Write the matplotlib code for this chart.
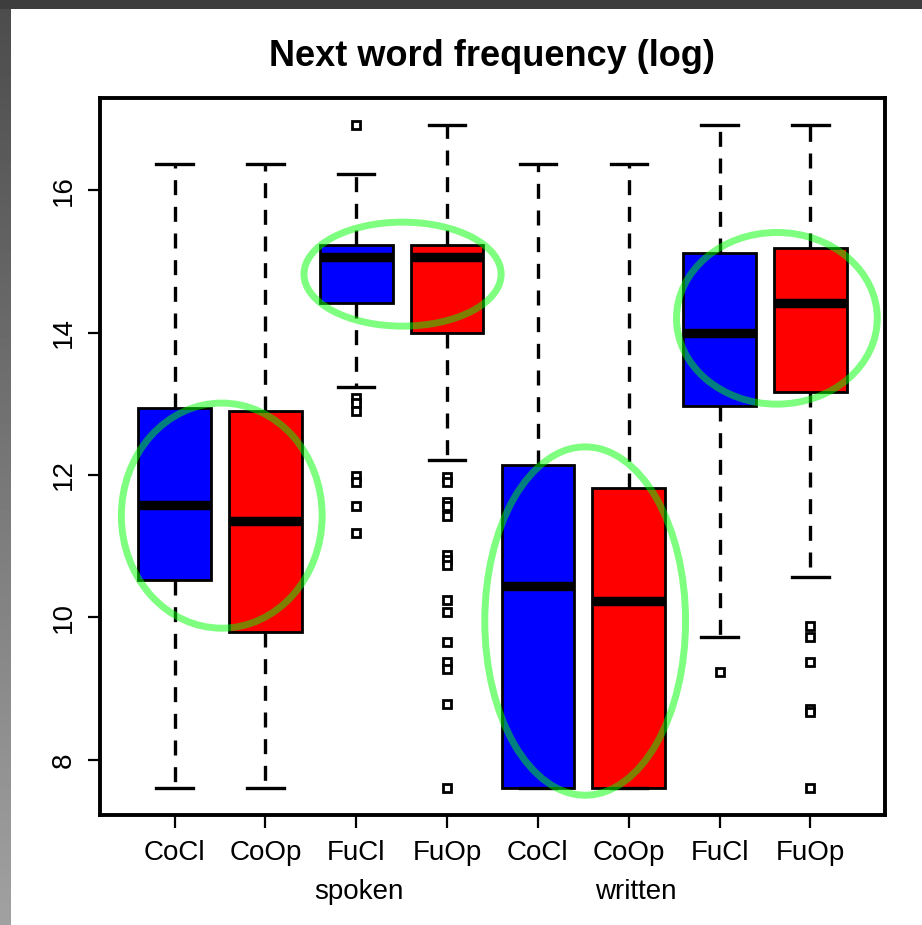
import numpy as np
import matplotlib
matplotlib.use("Agg")
import matplotlib.pyplot as plt
from matplotlib.patches import Ellipse, Rectangle

plt.rcParams['font.family'] = ['Liberation Sans', 'DejaVu Sans']

# next-word log frequency by condition, spoken then written
conds = ['CoCl', 'CoOp', 'FuCl', 'FuOp', 'CoCl', 'CoOp', 'FuCl', 'FuOp']
modes = ['spoken', 'written']
q1 = [10.52, 9.79, 14.42, 13.99, 7.60, 7.60, 12.97, 13.17]
med = [11.58, 11.36, 15.06, 15.06, 10.44, 10.23, 13.99, 14.42]
q3 = [12.94, 12.90, 15.23, 15.23, 12.14, 11.82, 15.12, 15.19]
whislo = [7.60, 7.60, 13.24, 12.21, 7.60, 7.60, 9.73, 10.57]
whishi = [16.37, 16.37, 16.22, 16.92, 16.37, 16.37, 16.92, 16.92]
fliers = [
    [],
    [],
    [16.92, 13.08, 13.01, 12.90, 11.99, 11.90, 11.57, 11.19],
    [11.97, 11.90, 11.62, 11.57, 11.43, 10.88, 10.81, 10.74, 10.24,
     10.07, 9.66, 9.37, 9.27, 8.78, 7.60],
    [],
    [],
    [9.23],
    [9.88, 9.73, 9.37, 8.72, 8.68, 7.60],
]
fills = ['#0000ff', '#ff0000'] * 4

stats = []
for i in range(len(conds)):
    stats.append({'med': med[i], 'q1': q1[i], 'q3': q3[i],
                  'whislo': whislo[i], 'whishi': whishi[i],
                  'fliers': fliers[i], 'label': conds[i]})

fig = plt.figure(figsize=(9.22, 9.25), dpi=100)
fig.patch.set_facecolor('white')

# dark frame strips along the top and left edge
fig.patches.append(Rectangle((0, 1 - 9 / 925), 1, 9 / 925, transform=fig.transFigure,
                             facecolor='#3d3d3d', edgecolor='none', zorder=0))
strip = fig.add_axes([0, 0, 10 / 922, 1 - 9 / 925])
grad = np.linspace(0.30, 0.63, 256).reshape(-1, 1)
strip.imshow(grad, cmap='gray', vmin=0, vmax=1, aspect='auto', origin='upper')
strip.axis('off')

ax = fig.add_axes([100 / 922, 1 - 815 / 925, 785 / 922, 717 / 925])
pos = np.arange(1, len(conds) + 1)
bp = ax.bxp(stats, positions=pos, widths=0.8, patch_artist=True, capwidths=0.4,
            boxprops=dict(edgecolor='black', linewidth=2.0),
            medianprops=dict(color='black', linewidth=6.8, solid_capstyle='butt'),
            whiskerprops=dict(color='black', linewidth=2.4, linestyle=(0, (4.5, 3.5))),
            capprops=dict(color='black', linewidth=2.4),
            flierprops=dict(marker='s', markersize=5.5, markerfacecolor='white',
                            markeredgecolor='black', markeredgewidth=2.0, linestyle='none'))
for box, c in zip(bp['boxes'], fills):
    box.set_facecolor(c)

lo = min(whislo + [v for f in fliers for v in f])
hi = max(whishi + [v for f in fliers for v in f])
pad = 0.04 * (hi - lo)
ax.set_ylim(lo - pad, hi + pad)
ax.set_xlim(0.5 - 0.32, len(conds) + 0.5 + 0.32)

ax.set_yticks([8, 10, 12, 14, 16])
ax.set_yticklabels(['8', '10', '12', '14', '16'], rotation=90, va='center')
ax.set_xticks(pos)
ax.set_xticklabels(conds)
ax.tick_params(axis='both', labelsize=20, length=9, width=1.6, color='black')
ax.tick_params(axis='x', pad=9)
ax.tick_params(axis='y', pad=8)
for s in ax.spines.values():
    s.set_linewidth(2.8)

# mode labels under the condition names
ax.text(3.03, -0.108, modes[0], transform=ax.get_xaxis_transform(),
        ha='center', va='center', fontsize=20)
ax.text(6.08, -0.108, modes[1], transform=ax.get_xaxis_transform(),
        ha='center', va='center', fontsize=20)

fig.text(492 / 922, 1 - 57 / 925, 'Next word frequency (log)', ha='center', va='center',
         fontsize=26, fontweight='bold')

# highlighted groups
rings = [(1.52, 11.43, 2.21, 3.16), (3.51, 14.82, 2.17, 1.46),
         (5.52, 9.95, 2.21, 4.89), (7.63, 14.20, 2.21, 2.41)]
for cx, cy, w, h in rings:
    ax.add_patch(Ellipse((cx, cy), w, h, facecolor='none',
                         edgecolor=(0, 1, 0, 0.5), linewidth=5, zorder=5))

fig.savefig('out.png', dpi=100)
